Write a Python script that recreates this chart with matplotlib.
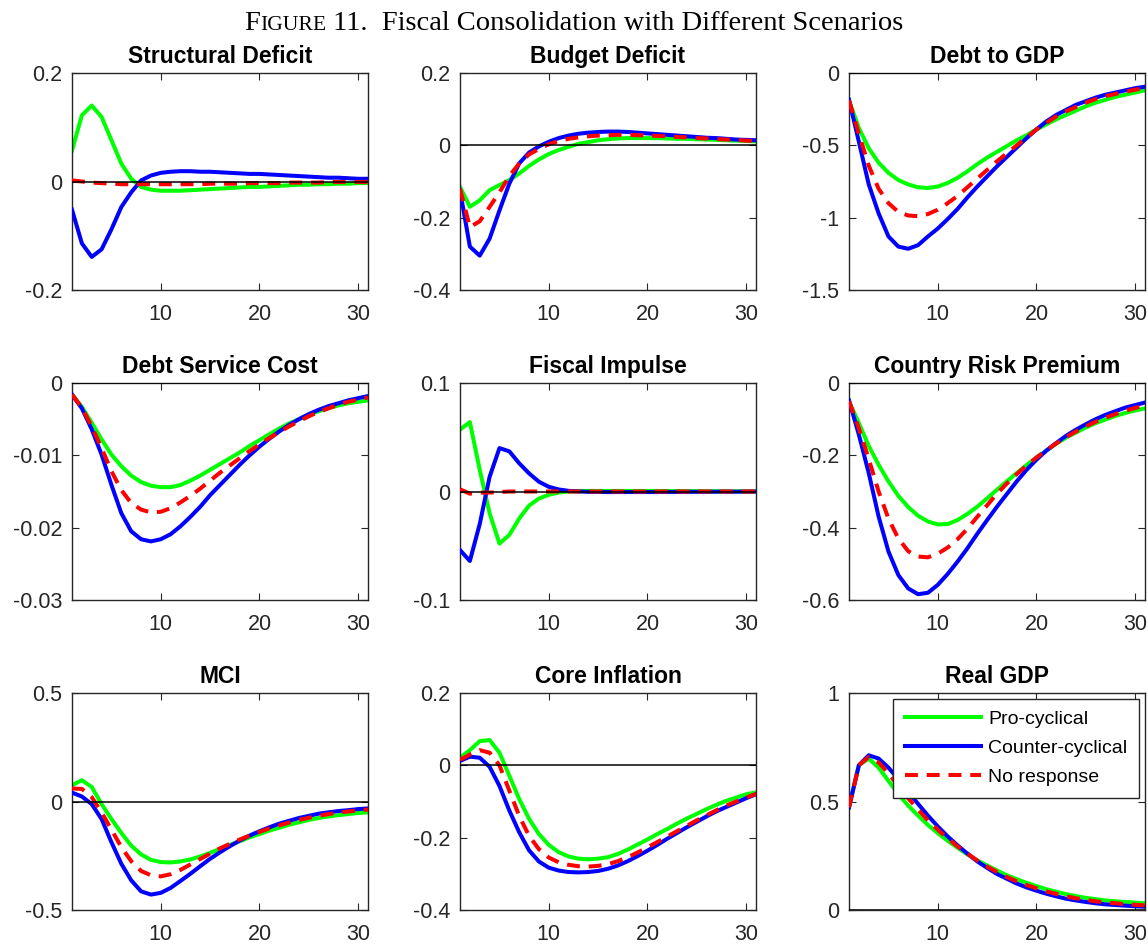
import numpy as np
import matplotlib
matplotlib.use("Agg")
import matplotlib.pyplot as plt

plt.rcParams['font.family'] = ['Liberation Sans', 'DejaVu Sans']

periods = list(range(1, 32))
series_names = ["Pro-cyclical", "Counter-cyclical", "No response"]

titles = ["Structural Deficit", "Budget Deficit", "Debt to GDP",
          "Debt Service Cost", "Fiscal Impulse", "Country Risk Premium",
          "MCI", "Core Inflation", "Real GDP"]

ylims = [(-0.2, 0.2), (-0.4, 0.2), (-1.5, 0), (-0.03, 0), (-0.1, 0.1),
         (-0.6, 0), (-0.5, 0.5), (-0.4, 0.2), (0, 1)]
yticks = [[-0.2, 0, 0.2], [-0.4, -0.2, 0, 0.2], [-1.5, -1, -0.5, 0],
          [-0.03, -0.02, -0.01, 0], [-0.1, 0, 0.1], [-0.6, -0.4, -0.2, 0],
          [-0.5, 0, 0.5], [-0.4, -0.2, 0, 0.2], [0, 0.5, 1]]
yticklabels = [["-0.2", "0", "0.2"], ["-0.4", "-0.2", "0", "0.2"],
               ["-1.5", "-1", "-0.5", "0"], ["-0.03", "-0.02", "-0.01", "0"],
               ["-0.1", "0", "0.1"], ["-0.6", "-0.4", "-0.2", "0"],
               ["-0.5", "0", "0.5"], ["-0.4", "-0.2", "0", "0.2"],
               ["0", "0.5", "1"]]
xticks = [10, 20, 30]

# Structural Deficit
sd_pro = [0.057, 0.122, 0.140, 0.119, 0.076, 0.033, 0.005, -0.010, -0.015, -0.017,
          -0.017, -0.017, -0.016, -0.015, -0.014, -0.013, -0.012, -0.011, -0.010, -0.010,
          -0.009, -0.008, -0.007, -0.006, -0.006, -0.005, -0.005, -0.004, -0.004, -0.003, -0.003]
sd_cnt = [-0.052, -0.114, -0.139, -0.125, -0.088, -0.047, -0.020, 0.002, 0.011, 0.016,
          0.018, 0.019, 0.019, 0.018, 0.018, 0.017, 0.016, 0.015, 0.014, 0.014,
          0.013, 0.012, 0.011, 0.010, 0.009, 0.008, 0.007, 0.007, 0.006, 0.005, 0.005]
sd_nor = [0.002, 0.000, -0.002, -0.003, -0.004, -0.005, -0.005, -0.005, -0.005, -0.005,
          -0.005, -0.005, -0.005, -0.005, -0.004, -0.004, -0.004, -0.004, -0.003, -0.003,
          -0.003, -0.003, -0.002, -0.002, -0.002, -0.002, -0.001, -0.001, -0.001, -0.001, -0.001]

# Budget Deficit
bd_pro = [-0.115, -0.170, -0.152, -0.124, -0.110, -0.096, -0.078, -0.057, -0.039, -0.024,
          -0.013, -0.004, 0.004, 0.009, 0.014, 0.017, 0.019, 0.020, 0.020, 0.020,
          0.020, 0.019, 0.018, 0.018, 0.017, 0.016, 0.015, 0.014, 0.013, 0.012, 0.011]
bd_cnt = [-0.124, -0.280, -0.305, -0.258, -0.180, -0.106, -0.050, -0.020, -0.003, 0.010,
          0.020, 0.027, 0.032, 0.035, 0.037, 0.038, 0.038, 0.037, 0.035, 0.033,
          0.031, 0.029, 0.027, 0.025, 0.023, 0.021, 0.020, 0.018, 0.016, 0.015, 0.014]
bd_nor = [-0.120, -0.226, -0.210, -0.170, -0.130, -0.085, -0.050, -0.025, -0.010, 0.003,
          0.012, 0.018, 0.022, 0.025, 0.027, 0.028, 0.029, 0.029, 0.028, 0.027,
          0.026, 0.025, 0.023, 0.022, 0.020, 0.019, 0.017, 0.016, 0.015, 0.013, 0.012]

# Debt to GDP
dg_pro = [-0.19, -0.38, -0.52, -0.62, -0.69, -0.74, -0.77, -0.79, -0.795, -0.785,
          -0.76, -0.725, -0.68, -0.63, -0.585, -0.545, -0.505, -0.465, -0.43, -0.39,
          -0.355, -0.32, -0.29, -0.26, -0.23, -0.205, -0.185, -0.165, -0.15, -0.135, -0.12]
dg_cnt = [-0.185, -0.475, -0.77, -0.97, -1.13, -1.20, -1.215, -1.19, -1.13, -1.075,
          -1.01, -0.94, -0.86, -0.785, -0.715, -0.645, -0.58, -0.515, -0.45, -0.39,
          -0.335, -0.29, -0.255, -0.22, -0.195, -0.17, -0.15, -0.135, -0.12, -0.105, -0.095]
dg_nor = [-0.19, -0.42, -0.64, -0.80, -0.90, -0.96, -0.985, -0.99, -0.975, -0.945,
          -0.90, -0.85, -0.79, -0.73, -0.67, -0.61, -0.555, -0.50, -0.445, -0.39,
          -0.345, -0.30, -0.265, -0.235, -0.205, -0.18, -0.16, -0.145, -0.13, -0.115, -0.105]

# Debt Service Cost
ds_pro = [-0.0016, -0.0033, -0.0055, -0.0078, -0.0099, -0.0115, -0.0128, -0.0137, -0.0142, -0.0144,
          -0.0144, -0.0141, -0.0135, -0.0128, -0.0120, -0.0112, -0.0104, -0.0096, -0.0087, -0.0079,
          -0.0071, -0.0063, -0.0056, -0.0050, -0.0044, -0.0039, -0.0035, -0.0031, -0.0028, -0.0026, -0.0024]
ds_cnt = [-0.0016, -0.0035, -0.0064, -0.0099, -0.0141, -0.0180, -0.0205, -0.0216, -0.0219, -0.0216,
          -0.0209, -0.0198, -0.0185, -0.0171, -0.0155, -0.0141, -0.0127, -0.0113, -0.0100, -0.0088,
          -0.0077, -0.0067, -0.0058, -0.0050, -0.0043, -0.0037, -0.0032, -0.0028, -0.0024, -0.0021, -0.0018]
ds_nor = [-0.0016, -0.0034, -0.0060, -0.0090, -0.0122, -0.0148, -0.0166, -0.0175, -0.0179, -0.0178,
          -0.0173, -0.0165, -0.0156, -0.0146, -0.0135, -0.0124, -0.0114, -0.0104, -0.0094, -0.0085,
          -0.0076, -0.0068, -0.0060, -0.0053, -0.0046, -0.0040, -0.0035, -0.0030, -0.0026, -0.0023, -0.0020]

# Fiscal Impulse
fi_pro = [0.057, 0.064, 0.020, -0.020, -0.048, -0.040, -0.025, -0.013, -0.0065, -0.003,
          -0.001, 0.000, 0.0005, 0.0005, 0.0005, 0.0005, 0.0005, 0.0005, 0.0005, 0.0005,
          0.0005, 0.0004, 0.0004, 0.0003, 0.0003, 0.0003, 0.0002, 0.0002, 0.0002, 0.0001, 0.0001]
fi_cnt = [-0.054, -0.064, -0.030, 0.0135, 0.040, 0.037, 0.026, 0.0167, 0.009, 0.0043,
          0.0019, 0.0006, 0.000, -0.0003, -0.0004, -0.0005, -0.0005, -0.0005, -0.0005, -0.0005,
          -0.0005, -0.0004, -0.0004, -0.0003, -0.0003, -0.0003, -0.0002, -0.0002, -0.0002, -0.0001, -0.0001]
fi_nor = [0.002, -0.002, -0.001, -0.001, -0.0005, 0.000, 0.000, 0.000, 0.000, 0.000,
          0.000, 0.000, 0.000, 0.000, 0.000, 0.000, 0.000, 0.000, 0.000, 0.000,
          0.000, 0.000, 0.000, 0.000, 0.000, 0.000, 0.000, 0.000, 0.000, 0.000, 0.000]

# Country Risk Premium
cr_pro = [-0.051, -0.111, -0.174, -0.226, -0.272, -0.312, -0.343, -0.367, -0.383, -0.391,
          -0.390, -0.379, -0.362, -0.342, -0.319, -0.295, -0.272, -0.249, -0.227, -0.206,
          -0.187, -0.168, -0.151, -0.137, -0.123, -0.111, -0.101, -0.091, -0.083, -0.076, -0.070]
cr_cnt = [-0.048, -0.143, -0.249, -0.369, -0.466, -0.531, -0.568, -0.584, -0.580, -0.558,
          -0.528, -0.494, -0.457, -0.417, -0.379, -0.342, -0.307, -0.272, -0.240, -0.212,
          -0.187, -0.166, -0.146, -0.129, -0.114, -0.100, -0.088, -0.078, -0.068, -0.061, -0.054]
cr_nor = [-0.050, -0.125, -0.210, -0.300, -0.375, -0.430, -0.465, -0.480, -0.482, -0.472,
          -0.455, -0.432, -0.403, -0.370, -0.338, -0.306, -0.278, -0.252, -0.228, -0.206,
          -0.186, -0.167, -0.150, -0.134, -0.120, -0.107, -0.096, -0.086, -0.077, -0.069, -0.062]

# MCI
mc_pro = [0.075, 0.098, 0.067, -0.012, -0.081, -0.145, -0.203, -0.244, -0.269, -0.279,
          -0.281, -0.276, -0.267, -0.253, -0.237, -0.218, -0.200, -0.183, -0.165, -0.150,
          -0.134, -0.121, -0.107, -0.096, -0.085, -0.076, -0.069, -0.063, -0.058, -0.053, -0.050]
mc_cnt = [0.041, 0.023, -0.012, -0.081, -0.188, -0.287, -0.363, -0.414, -0.429, -0.421,
          -0.398, -0.366, -0.333, -0.298, -0.264, -0.234, -0.206, -0.180, -0.157, -0.137,
          -0.119, -0.102, -0.089, -0.076, -0.066, -0.056, -0.050, -0.044, -0.040, -0.035, -0.032]
mc_nor = [0.060, 0.058, 0.020, -0.050, -0.130, -0.210, -0.275, -0.320, -0.340, -0.345,
          -0.335, -0.315, -0.290, -0.265, -0.240, -0.216, -0.195, -0.175, -0.157, -0.140,
          -0.124, -0.110, -0.097, -0.085, -0.075, -0.066, -0.058, -0.051, -0.046, -0.041, -0.037]

# Core Inflation
ci_pro = [0.021, 0.042, 0.067, 0.070, 0.035, -0.029, -0.093, -0.148, -0.190, -0.220,
          -0.240, -0.252, -0.258, -0.260, -0.258, -0.254, -0.245, -0.233, -0.219, -0.205,
          -0.190, -0.176, -0.161, -0.147, -0.134, -0.121, -0.109, -0.098, -0.089, -0.080, -0.075]
ci_cnt = [0.012, 0.024, 0.021, -0.004, -0.057, -0.125, -0.185, -0.235, -0.266, -0.283,
          -0.291, -0.295, -0.296, -0.295, -0.292, -0.286, -0.277, -0.265, -0.251, -0.236,
          -0.220, -0.203, -0.187, -0.171, -0.156, -0.141, -0.127, -0.115, -0.103, -0.091, -0.080]
ci_nor = [0.015, 0.030, 0.042, 0.035, 0.000, -0.070, -0.140, -0.195, -0.232, -0.255,
          -0.268, -0.275, -0.279, -0.280, -0.278, -0.273, -0.265, -0.254, -0.241, -0.227,
          -0.212, -0.197, -0.182, -0.167, -0.152, -0.138, -0.124, -0.111, -0.100, -0.089, -0.079]

# Real GDP
gd_pro = [0.473, 0.667, 0.698, 0.656, 0.595, 0.534, 0.481, 0.435, 0.392, 0.354,
          0.319, 0.287, 0.256, 0.229, 0.205, 0.182, 0.160, 0.142, 0.125, 0.110,
          0.096, 0.084, 0.073, 0.064, 0.056, 0.050, 0.044, 0.040, 0.037, 0.034, 0.031]
gd_cnt = [0.473, 0.667, 0.713, 0.698, 0.656, 0.603, 0.545, 0.489, 0.435, 0.385,
          0.339, 0.298, 0.260, 0.224, 0.194, 0.166, 0.144, 0.122, 0.104, 0.089,
          0.075, 0.063, 0.052, 0.044, 0.037, 0.031, 0.026, 0.023, 0.020, 0.017, 0.015]
gd_nor = [0.473, 0.667, 0.705, 0.680, 0.630, 0.570, 0.515, 0.463, 0.413, 0.370,
          0.330, 0.293, 0.260, 0.228, 0.200, 0.175, 0.152, 0.132, 0.115, 0.100,
          0.086, 0.074, 0.063, 0.054, 0.047, 0.040, 0.035, 0.031, 0.027, 0.024, 0.021]

panel_data = [
    (sd_pro, sd_cnt, sd_nor), (bd_pro, bd_cnt, bd_nor), (dg_pro, dg_cnt, dg_nor),
    (ds_pro, ds_cnt, ds_nor), (fi_pro, fi_cnt, fi_nor), (cr_pro, cr_cnt, cr_nor),
    (mc_pro, mc_cnt, mc_nor), (ci_pro, ci_cnt, ci_nor), (gd_pro, gd_cnt, gd_nor),
]

W, H = 1148, 949
fig = plt.figure(figsize=(W / 100, H / 100), dpi=100)

col_left = [72, 460, 849]
row_top = [73, 383, 693]
aw, ah = 296, 217

spine_col = '#262626'
colors = ['#00ff00', '#0000ff', '#ff0000']
styles = ['-', '-', (0, (3.2, 2.2))]
lw = 2.9

axes = []
for i in range(9):
    r, c = divmod(i, 3)
    left = col_left[c] / W
    bottom = 1 - (row_top[r] + ah) / H
    ax = fig.add_axes([left, bottom, aw / W, ah / H])
    axes.append(ax)
    lines = []
    for k in range(3):
        ln, = ax.plot(periods, panel_data[i][k], color=colors[k], linestyle=styles[k],
                      linewidth=lw, label=series_names[k], zorder=2 + k,
                      solid_joinstyle='round', dash_capstyle='butt')
        lines.append(ln)
    ax.axhline(0, color='black', linewidth=1.1, zorder=6)
    ax.set_xlim(1, 31)
    ax.set_ylim(*ylims[i])
    ax.set_xticks(xticks)
    ax.set_xticklabels([str(t) for t in xticks])
    ax.set_yticks(yticks[i])
    ax.set_yticklabels(yticklabels[i])
    ax.tick_params(direction='in', top=True, right=True, length=5, width=0.8,
                   labelsize=15.5, colors=spine_col)
    ax.tick_params(axis='x', pad=10)
    ax.tick_params(axis='y', pad=7)
    for sp in ax.spines.values():
        sp.set_color(spine_col)
        sp.set_linewidth(1.0)
    ax.set_title(titles[i], fontsize=16.5, fontweight='bold', pad=7)
    if i == 8:
        leg = ax.legend(handles=lines, loc='upper right', fontsize=14,
                        handlelength=3.9, frameon=True, fancybox=False,
                        borderpad=0.6, labelspacing=0.58, handletextpad=0.4,
                        borderaxespad=0.3)
        leg.get_frame().set_edgecolor(spine_col)
        leg.get_frame().set_linewidth(1.0)
        leg.get_frame().set_alpha(1)

# Title in small caps style
serif = ['Liberation Serif', 'DejaVu Serif']
pieces = [("F", 20.5), ("IGURE", 15.6), (" 11.  Fiscal Consolidation with Different Scenarios", 20.5)]
renderer = fig.canvas.get_renderer()
texts = []
x = 0
y = 1 - 30 / H
for s, fs in pieces:
    t = fig.text(x, y, s, fontsize=fs, family=serif, ha='left', va='baseline')
    texts.append(t)
    bb = t.get_window_extent(renderer)
    x = bb.x1 / W
total = x
x = 0.5 - total / 2
for t in texts:
    t.set_x(x)
    bb = t.get_window_extent(renderer)
    x = bb.x1 / W

fig.savefig('out.png', dpi=100)
